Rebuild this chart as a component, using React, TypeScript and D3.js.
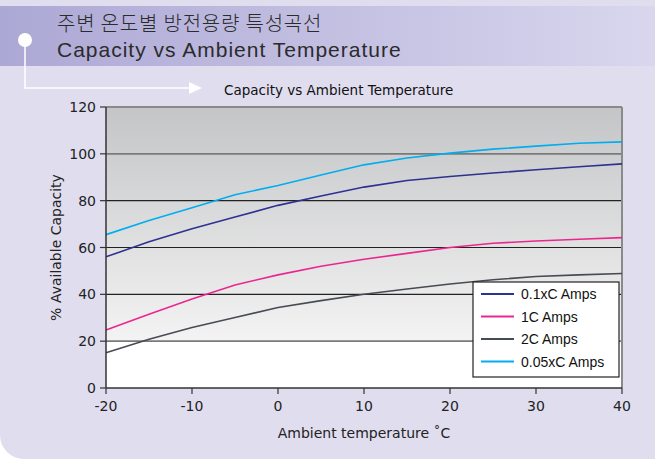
import React from 'react';
import * as d3 from 'd3';

const temps = [-20, -15, -10, -5, 0, 5, 10, 15, 20, 25, 30, 35, 40];
const amps01 = [56, 62.5, 68, 73, 78, 82, 85.8, 88.6, 90.3, 91.8, 93.2, 94.5, 95.7];
const amps1 = [24.8, 31.5, 38, 44, 48.3, 52, 55, 57.5, 60, 61.8, 62.8, 63.5, 64.2];
const amps2 = [15.1, 20.8, 25.8, 30.1, 34.4, 37.3, 40, 42.3, 44.4, 46.2, 47.6, 48.3, 48.9];
const amps005 = [65.5, 71.5, 77, 82.5, 86.5, 91, 95.3, 98.2, 100.3, 102, 103.3, 104.5, 105.1];
const seriesNames = ['0.1xC Amps', '1C Amps', '2C Amps', '0.05xC Amps'];
const seriesColors = ['#2e3192', '#ec268f', '#474c52', '#00aeef'];
const xTicks = [-20, -10, 0, 10, 20, 30, 40];
const yTicks = [0, 20, 40, 60, 80, 100, 120];

const W = 655;
const H = 459;

export default function App() {
  const x = d3.scaleLinear().domain([-20, 40]).range([106, 622]);
  const y = d3.scaleLinear().domain([0, 120]).range([388, 107]);
  const allSeries = [amps01, amps1, amps2, amps005];
  const line = d3.line<number>()
    .x((_, i) => x(temps[i]))
    .y(d => y(d));

  const font = '"DejaVu Sans", Verdana, sans-serif';

  return (
    <svg width={W} height={H} style={{ position: 'fixed', left: 0, top: 0, display: 'block' }}>
      <defs>
        <linearGradient id="band" x1="0" x2="1" y1="0" y2="0">
          <stop offset="0" stopColor="#aca8d5" />
          <stop offset="1" stopColor="#d9d6ee" />
        </linearGradient>
        <linearGradient id="plotbg" x1="0" x2="0" y1="0" y2="1">
          <stop offset="0" stopColor="#c4c5c7" />
          <stop offset="0.83" stopColor="#f3f3f3" />
          <stop offset="0.832" stopColor="#ffffff" />
          <stop offset="1" stopColor="#ffffff" />
        </linearGradient>
      </defs>
      <rect x={0} y={0} width={W} height={H} fill="#ffffff" />
      <rect x={0} y={-30} width={W + 30} height={H + 30} rx={24} fill="#e0ddef" />
      <rect x={0} y={6} width={W} height={60} fill="url(#band)" />

      {/* header */}
      <text x={57} y={31} fontFamily='"Noto Sans CJK KR", sans-serif' fontWeight={300} fontSize={20} letterSpacing={0.8} fill="#2b2b2b">
        주변 온도별 방전용량 특성곡선
      </text>
      <text x={57} y={57} fontFamily='"Liberation Sans", Arial, sans-serif' fontSize={21} letterSpacing={1} fill="#2b2b2b">
        Capacity vs Ambient Temperature
      </text>
      <circle cx={25} cy={40} r={7} fill="#ffffff" />
      <path d="M25,40 V88 H190" stroke="#ffffff" strokeWidth={1.5} fill="none" />
      <path d="M189,82 L202,88 L189,94 Z" fill="#ffffff" />

      {/* chart title */}
      <text x={224} y={95} fontFamily={font} fontSize={13.5} fill="#111">
        Capacity vs Ambient Temperature
      </text>

      {/* plot area */}
      <rect x={x(-20)} y={y(120)} width={x(40) - x(-20)} height={y(0) - y(120)} fill="url(#plotbg)" />
      {yTicks.filter(t => t > 0 && t < 120).map(t => (
        <line key={t} x1={x(-20)} x2={x(40)} y1={y(t)} y2={y(t)}
          stroke={t === 100 || t === 20 ? '#7a7a7a' : '#222'} strokeWidth={t === 100 || t === 20 ? 1.6 : 1.2} />
      ))}
      <line x1={x(-20)} x2={x(40)} y1={y(120)} y2={y(120)} stroke="#8a8a8a" strokeWidth={2} />
      <line x1={x(40)} x2={x(40)} y1={y(120)} y2={y(0)} stroke="#8a8a8a" strokeWidth={2} />

      {allSeries.map((s, i) => (
        <path key={i} d={line(s) || ''} fill="none" stroke={seriesColors[i]} strokeWidth={1.6} />
      ))}

      {/* axes */}
      <line x1={x(-20)} x2={x(-20)} y1={y(120)} y2={y(0)} stroke="#333" strokeWidth={1.5} />
      <line x1={x(-20)} x2={x(40)} y1={y(0)} y2={y(0)} stroke="#333" strokeWidth={1.5} />
      {yTicks.map(t => (
        <g key={t}>
          <line x1={x(-20) - 6} x2={x(-20)} y1={y(t)} y2={y(t)} stroke="#333" strokeWidth={1.2} />
          <text x={x(-20) - 10} y={y(t) + 5} textAnchor="end" fontFamily={font} fontSize={14} fill="#222">{t}</text>
        </g>
      ))}
      {xTicks.map(t => (
        <g key={t}>
          <line x1={x(t)} x2={x(t)} y1={y(0)} y2={y(0) + 6} stroke="#333" strokeWidth={1.2} />
          <text x={x(t)} y={y(0) + 23} textAnchor="middle" fontFamily={font} fontSize={14} fill="#222">{t}</text>
        </g>
      ))}
      <text x={364} y={438} textAnchor="middle" fontFamily={font} fontSize={14} fill="#222">
        Ambient temperature ˚C
      </text>
      <text transform={`translate(61,${y(60)}) rotate(-90)`} textAnchor="middle" fontFamily={font} fontSize={14} fill="#222">
        % Available Capacity
      </text>

      {/* legend */}
      <rect x={473} y={282} width={146} height={95} fill="#ffffff" stroke="#222" strokeWidth={1.2} />
      {seriesNames.map((n, i) => (
        <g key={n}>
          <line x1={481} x2={514} y1={294 + i * 22.5} y2={294 + i * 22.5} stroke={seriesColors[i]} strokeWidth={2} />
          <text x={521} y={299 + i * 22.5} fontFamily='"Liberation Sans", Arial, sans-serif' fontSize={14} fill="#111">{n}</text>
        </g>
      ))}
    </svg>
  );
}
